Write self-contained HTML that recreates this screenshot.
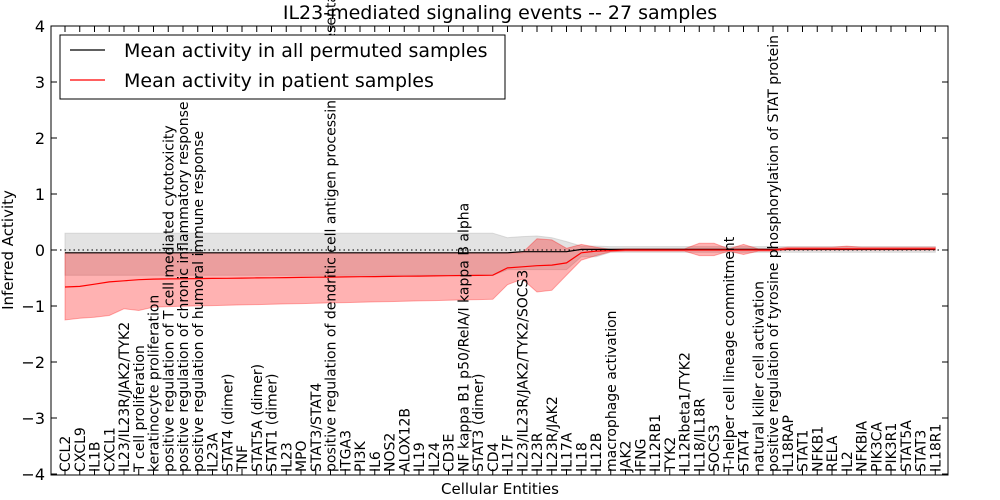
<!DOCTYPE html>
<html><head><meta charset="utf-8"><style>
body{margin:0;background:#fff;}
svg{display:block;font-family:"DejaVu Sans","Liberation Sans",sans-serif;}
</style></head><body>
<svg id="s" width="1000" height="500" xmlns="http://www.w3.org/2000/svg">
<rect x="0" y="0" width="1000" height="500" fill="#fff"/>
<g id="plot"></g>
<text x="500" y="19" font-size="19" text-anchor="middle">IL23-mediated signaling events -- 27 samples</text>
</svg>
<script>
const labels=["CCL2","CXCL9","IL1B","CXCL1","IL23/IL23R/JAK2/TYK2","T cell proliferation","keratinocyte proliferation","positive regulation of T cell mediated cytotoxicity","positive regulation of chronic inflammatory response","positive regulation of humoral immune response","IL23A","STAT4 (dimer)","TNF","STAT5A (dimer)","STAT1 (dimer)","IL23","MPO","STAT3/STAT4","positive regulation of dendritic cell antigen processing and presentation","ITGA3","PI3K","IL6","NOS2","ALOX12B","IL19","IL24","CD3E","NF kappa B1 p50/RelA/I kappa B alpha","STAT3 (dimer)","CD4","IL17F","IL23/IL23R/JAK2/TYK2/SOCS3","IL23R","IL23R/JAK2","IL17A","IL18","IL12B","macrophage activation","JAK2","IFNG","IL12RB1","TYK2","IL12Rbeta1/TYK2","IL18/IL18R","SOCS3","T-helper cell lineage commitment","STAT4","natural killer cell activation","positive regulation of tyrosine phosphorylation of STAT protein","IL18RAP","STAT1","NFKB1","RELA","IL2","NFKBIA","PIK3CA","PIK3R1","STAT5A","STAT3","IL18R1"];
const N=60,X0=65,DX=14.75,Y0=250,SY=56;
const X=i=>X0+DX*i, Y=v=>Y0-v*SY;
let rm=[],rt=[],rb=[],bm=[],gt=[],gb=[];
for(let i=0;i<N;i++){
 let m;
 if(i<=29){m=[-0.66,-0.65,-0.61,-0.57,-0.55,-0.53][i]; if(m===undefined)m=-0.52+(i-6)*0.07/23;}
 else m=[-0.32,-0.3,-0.28,-0.27,-0.23,-0.05,-0.02,-0.01][i-30];
 if(m===undefined)m=(i>=49?0.02:0.0);
 rm.push(m);
 let b;
 if(i<=29){b=[-1.25,-1.22,-1.2,-1.17,-1.05,-1.08,-1.02][i]; if(b===undefined)b=-1.01+(i-7)*0.13/22;}
 else b=[-0.62,-0.52,-0.75,-0.72,-0.45,-0.18,-0.1,-0.03][i-30];
 if(b===undefined){b=-0.02; if(i>=43&&i<=44)b=-0.1; if(i==46)b=-0.08; if(i>=49)b=0.0;}
 rb.push(b);
 let t;
 if(i<=31)t=-0.05; else t=[0.2,0.18,0.03,0.1,0.05,0.01][i-32];
 if(t===undefined){t=0.02; if(i>=43&&i<=44)t=0.12; if(i==46)t=0.1; if(i>=49)t=0.05; if(i==53)t=0.07;}
 rt.push(t);
 bm.push(i<=30?-0.05:(i<=34?-0.03:0.01));
 gt.push(i<=29?0.3:(i<=34?[0.22,0.24,0.25,0.22,0.15][i-30]:(i<=36?0.07:0.06)));
 gb.push(i<=29?-0.45:(i<=34?-0.35:(i<=36?-0.12:-0.04)));
}
const pts=(a)=>a.map((v,i)=>X(i).toFixed(1)+","+Y(v).toFixed(1)).join(" ");
const band=(t,b)=>pts(t)+" "+b.map((v,i)=>[X(i),Y(v)]).reverse().map(p=>p[0].toFixed(1)+","+p[1].toFixed(1)).join(" ");
let h="";
h+=`<polygon points="${band(gt,gb)}" fill="#c8c8c8" fill-opacity="0.5" stroke="#bbb" stroke-opacity="0.5"/>`;
h+=`<polygon points="${band(rt,rb)}" fill="#ff0000" fill-opacity="0.3" stroke="#ff0000" stroke-opacity="0.3"/>`;
h+=`<line x1="51" y1="250" x2="948" y2="250" stroke="#000" stroke-dasharray="1.5,3"/>`;
h+=`<polyline points="${pts(bm)}" fill="none" stroke="#000" stroke-width="1.2"/>`;
h+=`<polyline points="${pts(rm)}" fill="none" stroke="#f00" stroke-width="1.2"/>`;
for(let i=0;i<N;i++){const x=X(i);
 h+=`<line x1="${x}" y1="475" x2="${x}" y2="469" stroke="#000"/><line x1="${x}" y1="26" x2="${x}" y2="32" stroke="#000"/>`;
 h+=`<text transform="translate(${x+5},472) rotate(-90)" font-size="14">${labels[i]}</text>`;}
h+=`<rect x="51" y="26" width="897" height="449" fill="none" stroke="#000" stroke-width="1"/>`;
for(let v=-4;v<=4;v++){const y=Y(v);
 h+=`<line x1="51" y1="${y}" x2="57" y2="${y}" stroke="#000"/><line x1="942" y1="${y}" x2="948" y2="${y}" stroke="#000"/>`;
 h+=`<text x="45" y="${y+6}" font-size="16" text-anchor="end">${v<0?"\u2212"+(-v):v}</text>`;}
h+=`<text x="500" y="494" font-size="15" text-anchor="middle">Cellular Entities</text>`;
h+=`<text transform="translate(13,250) rotate(-90)" font-size="15" text-anchor="middle">Inferred Activity</text>`;
h+=`<rect x="60" y="35" width="445" height="64" fill="#fff" stroke="#000"/>`;
h+=`<line x1="70" y1="50" x2="105" y2="50" stroke="#000" stroke-width="1.2"/><text x="124" y="57" font-size="19">Mean activity in all permuted samples</text>`;
h+=`<line x1="70" y1="80" x2="105" y2="80" stroke="#f00" stroke-width="1.2"/><text x="124" y="87" font-size="19">Mean activity in patient samples</text>`;
document.getElementById("plot").innerHTML=h;
</script>
</body></html>
